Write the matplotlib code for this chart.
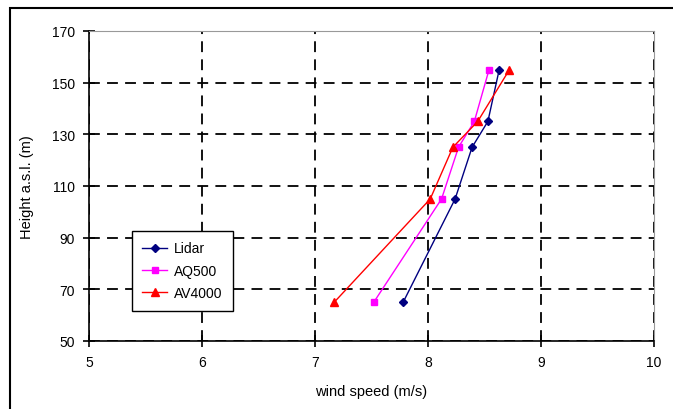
import matplotlib.pyplot as plt
from matplotlib.patches import Rectangle

plt.rcParams['font.family'] = ['Liberation Sans', 'DejaVu Sans']

# wind profile data
height = [65, 105, 125, 135, 155]
lidar = [7.78, 8.24, 8.39, 8.53, 8.63]
aq500 = [7.52, 8.12, 8.27, 8.41, 8.54]
av4000 = [7.17, 8.02, 8.22, 8.44, 8.72]

fig = plt.figure(figsize=(6.73, 4.10), dpi=100)
fig.patches.append(Rectangle((10 / 673, -0.1), 1.2, 1 - 9 / 410 + 0.1,
                             transform=fig.transFigure, fill=False,
                             edgecolor='black', linewidth=1.5))
ax = fig.add_axes([89 / 673, 1 - 342 / 410, 565 / 673, 310 / 410])

ax.plot(lidar, height, color='#000080', marker='D', markersize=4, linewidth=1, label='Lidar')
ax.plot(aq500, height, color='#FF00FF', marker='s', markersize=5, linewidth=1, label='AQ500')
ax.plot(av4000, height, color='#FF0000', marker='^', markersize=6, linewidth=1, label='AV4000')

ax.set_xlim(5, 10)
ax.set_ylim(50, 170)
ax.set_xticks(range(5, 11))
ax.set_yticks(range(50, 171, 20))
ax.grid(True, color='black', linestyle=(0, (6, 4)), linewidth=1.3)
ax.tick_params(direction='inout', length=8, width=1.2, labelsize=10, pad=6)
ax.spines['top'].set_color('#999999')
ax.spines['right'].set_color('#999999')
ax.spines['left'].set_linewidth(1.2)
ax.spines['bottom'].set_linewidth(1.2)

ax.set_xlabel('wind speed (m/s)', fontsize=10.5, labelpad=11)
ax.set_ylabel('Height a.s.l. (m)', fontsize=10.5)
ax.yaxis.set_label_coords(-0.097, 0.5)

leg = ax.legend(loc='upper left', bbox_to_anchor=(0.0761, 0.3548), fontsize=10,
                fancybox=False, framealpha=1, edgecolor='black',
                handlelength=1.8, handletextpad=0.45, borderpad=0.75,
                labelspacing=0.6, borderaxespad=0)
leg.get_frame().set_linewidth(1)

fig.savefig('out.png', dpi=100)
